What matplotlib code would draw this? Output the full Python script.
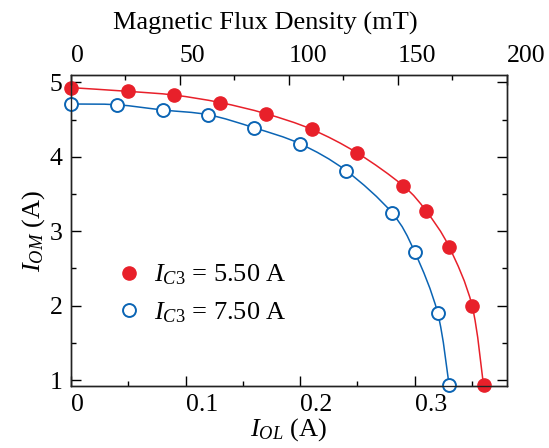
import numpy as np
import matplotlib
matplotlib.use('Agg')
from matplotlib import pyplot as plt
from matplotlib.path import Path
from matplotlib.patches import PathPatch
from matplotlib.ticker import MultipleLocator

plt.rcParams['font.family'] = 'Liberation Serif'
plt.rcParams['mathtext.fontset'] = 'custom'
plt.rcParams['mathtext.rm'] = 'Liberation Serif'
plt.rcParams['mathtext.it'] = 'Liberation Serif:italic'

# Daten
i_ol_550 = [0.0, 0.05, 0.09, 0.13, 0.17, 0.21, 0.25, 0.29, 0.31, 0.33, 0.35, 0.36]
i_om_550 = [4.93, 4.88, 4.83, 4.73, 4.58, 4.37, 4.05, 3.61, 3.27, 2.79, 2.00, 0.93]
i_ol_750 = [0.0, 0.04, 0.08, 0.12, 0.16, 0.20, 0.24, 0.28, 0.30, 0.32, 0.33]
i_om_750 = [4.71, 4.70, 4.63, 4.565, 4.39, 4.175, 3.815, 3.25, 2.72, 1.90, 0.93]

red = '#e8202a'
blue = '#0a64b4'
fs = 18.5


def smooth_path(x, y):
    # glatte Kurve durch die Messpunkte (Catmull-Rom als Bezier)
    p = np.column_stack([x, y])
    p = np.vstack([p[0], p, p[-1]])
    verts = [p[1]]
    codes = [Path.MOVETO]
    for i in range(1, len(p) - 2):
        c1 = p[i] + (p[i + 1] - p[i - 1]) / 6
        c2 = p[i + 1] - (p[i + 2] - p[i]) / 6
        verts += [c1, c2, p[i + 1]]
        codes += [Path.CURVE4] * 3
    return Path(verts, codes)


fig = plt.figure(figsize=(5.49, 4.48), dpi=100)
ax = fig.add_axes([0.1293, 0.1384, 0.7942, 0.6942])

ax.add_patch(PathPatch(smooth_path(i_ol_550, i_om_550), fill=False, edgecolor=red, lw=1.1, clip_on=False))
ax.add_patch(PathPatch(smooth_path(i_ol_750, i_om_750), fill=False, edgecolor=blue, lw=1.1, clip_on=False))

ax.plot(i_ol_550, i_om_550, 'o', color=red, ms=9.5, clip_on=False, zorder=5,
        label=r'$I_{C\mathrm{3}}$ = 5.50 A')
ax.plot(i_ol_750, i_om_750, 'o', mfc='white', mec=blue, mew=1.4, ms=9.3, clip_on=False, zorder=5,
        label=r'$I_{C\mathrm{3}}$ = 7.50 A')

ax.set_xlim(0, 0.3805)
ax.set_ylim(0.92, 5.10)
ax.xaxis.set_major_locator(MultipleLocator(0.1))
ax.xaxis.set_minor_locator(MultipleLocator(0.05))
ax.yaxis.set_major_locator(MultipleLocator(1))
ax.yaxis.set_minor_locator(MultipleLocator(0.5))
ax.xaxis.set_major_formatter(plt.FuncFormatter(lambda v, p: '0' if abs(v) < 1e-9 else '%g' % v))
ax.tick_params(which='both', direction='in', top=False, right=True, labelsize=fs, width=1.0)
ax.tick_params(which='major', length=7)
ax.tick_params(which='minor', length=3.6)
ax.tick_params(axis='x', pad=6)
ax.tick_params(axis='y', pad=6)
for lab in ax.get_xticklabels():
    lab.set_horizontalalignment('left')

ax.set_xlabel(r'$I_{OL}$ (A)', fontsize=fs + 0.5, labelpad=0)
ax.set_ylabel(r'$I_{OM}$ (A)', fontsize=fs + 0.5, labelpad=2)

ax2 = ax.twiny()
ax2.set_xlim(0, 200)
ax2.xaxis.set_major_locator(MultipleLocator(50))
ax2.xaxis.set_minor_locator(MultipleLocator(25))
ax2.tick_params(which='both', direction='in', labelsize=fs, width=1.0, pad=6)
ax2.tick_params(which='major', length=7)
ax2.tick_params(which='minor', length=3.6)
for lab in ax2.get_xticklabels():
    lab.set_horizontalalignment('left')
ax2.set_xlabel('Magnetic Flux Density (mT)', fontsize=fs + 0.5)
ax2.xaxis.set_label_coords(0.445, 1.145)

for a in (ax, ax2):
    for s in a.spines.values():
        s.set_linewidth(1.0)
        s.set_color('#222222')

ax.legend(loc='upper left', bbox_to_anchor=(0.078, 0.43), frameon=False, fontsize=fs + 0.5,
          handlelength=1.0, handletextpad=0.45, labelspacing=0.5, borderaxespad=0, numpoints=1)

fig.savefig('out.png', dpi=100)
